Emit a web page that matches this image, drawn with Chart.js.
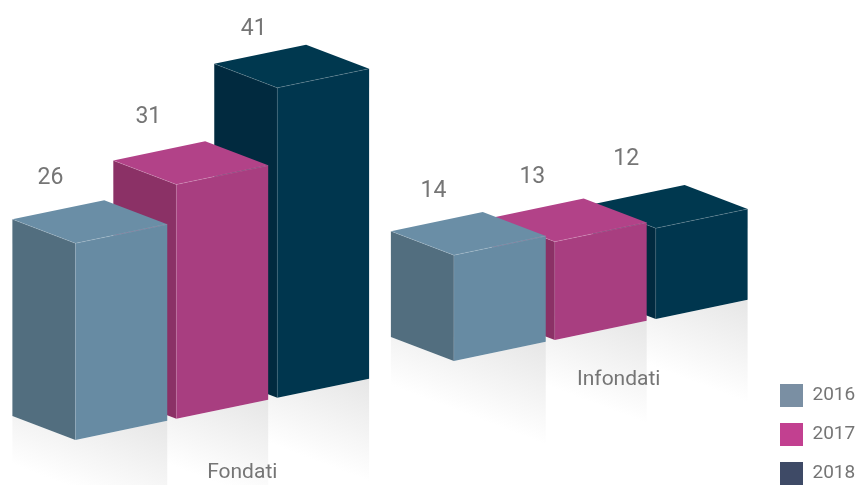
<!DOCTYPE html>
<html>
<head>
<meta charset="utf-8">
<script src="https://cdn.jsdelivr.net/npm/chart.js@4"></script>
<style>html,body{margin:0;padding:0;background:#fff;overflow:hidden}canvas{display:block}</style>
</head>
<body>
<canvas id="c" width="856" height="485"></canvas>
<script>
const categories = ['Fondati', 'Infondati'];
const series = ['2016', '2017', '2018'];
const values2016 = [26, 14];
const values2017 = [31, 13];
const values2018 = [41, 12];
const legendColors = ['#7a8fa3', '#c24090', '#3e4a66'];
const frontColors = ['#678ba3', '#a83e80', '#00364e'];
const sideColors = ['#526e7f', '#8b3166', '#012a3f'];
const topColors = ['#6a8ea6', '#b24288', '#00384f'];

// projection of the boxes
const SLOPE = 0.2085, DEPTH_X = -63, DEPTH_Y = -24, FIRST_FRONT_X = 75, BASE_Y = 440;
const TEXT = '#757575', FONT = 'Roboto, sans-serif';
const VALUE_OFFSET = [-24.5, -64];
const VALUE_NUDGE = [[[-0.5, -1], [4, 0.5]], [[-3.5, -3], [2, 0]], [[1, 5], [-5, -4.5]]];
const CATEGORY_OFFSET = [[20, 53.5], [18, 39.5]];

function box(bar) {
  const x = bar.x - bar.width / 2, w = bar.width;
  const baseY = BASE_Y - SLOPE * (x - FIRST_FRONT_X);
  const h = bar.base - bar.y;
  return {x, w, baseY, topY: baseY - h, dy: -SLOPE * w};
}
function poly(ctx, pts, fill) {
  ctx.beginPath();
  pts.forEach((p, i) => i ? ctx.lineTo(p[0], p[1]) : ctx.moveTo(p[0], p[1]));
  ctx.closePath();
  ctx.fillStyle = fill;
  ctx.fill();
}
const box3d = {
  id: 'box3d',
  afterLayout(chart) {
    const l = chart.legend;
    l.left = 764; l.right = 856; l.top = 368; l.bottom = 540;
  },
  beforeDatasetsDraw(chart) {
    const ctx = chart.ctx;
    for (let d = chart.data.datasets.length - 1; d >= 0; d--) {
      chart.getDatasetMeta(d).data.forEach(bar => {
        const b = box(bar);
        const rx = b.x + b.w, ry = b.baseY + b.dy;
        const nx = -0.356, ny = 0.934, L = 96;
        const g = ctx.createLinearGradient(rx, ry, rx + nx * L, ry + ny * L);
        g.addColorStop(0, '#e6e6e6');
        g.addColorStop(1, '#ffffff');
        poly(ctx, [[b.x + DEPTH_X, b.baseY + DEPTH_Y], [b.x, b.baseY], [rx, ry], [rx, 520], [b.x + DEPTH_X, 520]], g);
      });
    }
  },
  beforeDatasetDraw(chart, args) {
    const ctx = chart.ctx, d = args.index;
    args.meta.data.forEach(bar => {
      const b = box(bar);
      const fl = [b.x, b.topY], fr = [b.x + b.w, b.topY + b.dy];
      const l = [b.x + DEPTH_X, b.topY + DEPTH_Y];
      const k = [b.x + b.w + DEPTH_X, b.topY + b.dy + DEPTH_Y];
      poly(ctx, [l, fl, [b.x, b.baseY], [b.x + DEPTH_X, b.baseY + DEPTH_Y]], sideColors[d]);
      poly(ctx, [fl, fr, [b.x + b.w, b.baseY + b.dy], [b.x, b.baseY]], frontColors[d]);
      poly(ctx, [l, k, fr, fl], topColors[d]);
      ctx.save();
      ctx.lineWidth = 0.6;
      ctx.strokeStyle = 'rgba(255,255,255,0.25)';
      ctx.beginPath();
      ctx.moveTo(l[0], l[1]); ctx.lineTo(fl[0], fl[1]); ctx.lineTo(fr[0], fr[1]);
      ctx.stroke();
      ctx.strokeStyle = 'rgba(255,255,255,0.12)';
      ctx.beginPath();
      ctx.moveTo(fl[0], fl[1]); ctx.lineTo(b.x, b.baseY);
      ctx.stroke();
      ctx.restore();
    });
    return false;
  },
  afterDatasetsDraw(chart) {
    const ctx = chart.ctx;
    ctx.save();
    ctx.textAlign = 'center';
    ctx.textBaseline = 'middle';
    ctx.fillStyle = TEXT;
    ctx.font = '400 23px ' + FONT;
    chart.data.datasets.forEach((ds, d) => {
      chart.getDatasetMeta(d).data.forEach((bar, i) => {
        const b = box(bar);
        const n = VALUE_NUDGE[d][i];
        ctx.fillText(String(ds.data[i]), b.x + VALUE_OFFSET[0] + n[0], b.topY + VALUE_OFFSET[1] + n[1]);
      });
    });
    ctx.font = '400 21px ' + FONT;
    const mid = chart.getDatasetMeta(1).data;
    chart.data.labels.forEach((label, i) => {
      const bar = mid[i];
      ctx.fillText(label, bar.x + CATEGORY_OFFSET[i][0], box(bar).baseY + CATEGORY_OFFSET[i][1]);
    });
    ctx.restore();
  }
};
const seriesValues = [values2016, values2017, values2018];
new Chart(document.getElementById('c'), {
  type: 'bar',
  data: {
    labels: categories,
    datasets: series.map((name, i) => ({
      label: name,
      data: seriesValues[i],
      backgroundColor: legendColors[i],
      categoryPercentage: 0.8,
      barPercentage: 0.91
    }))
  },
  plugins: [box3d],
  options: {
    responsive: false,
    animation: false,
    layout: {padding: {left: 33, right: 66, top: 62, bottom: 45}},
    scales: {
      x: {display: false},
      y: {display: false, min: 0, max: 50}
    },
    plugins: {
      tooltip: {enabled: false},
      legend: {
        position: 'chartArea',
        align: 'start',
        labels: {
          boxWidth: 23, boxHeight: 23, padding: 16,
          color: TEXT,
          font: {family: FONT, size: 19, weight: '400'}
        }
      }
    }
  }
});
</script>
</body>
</html>
